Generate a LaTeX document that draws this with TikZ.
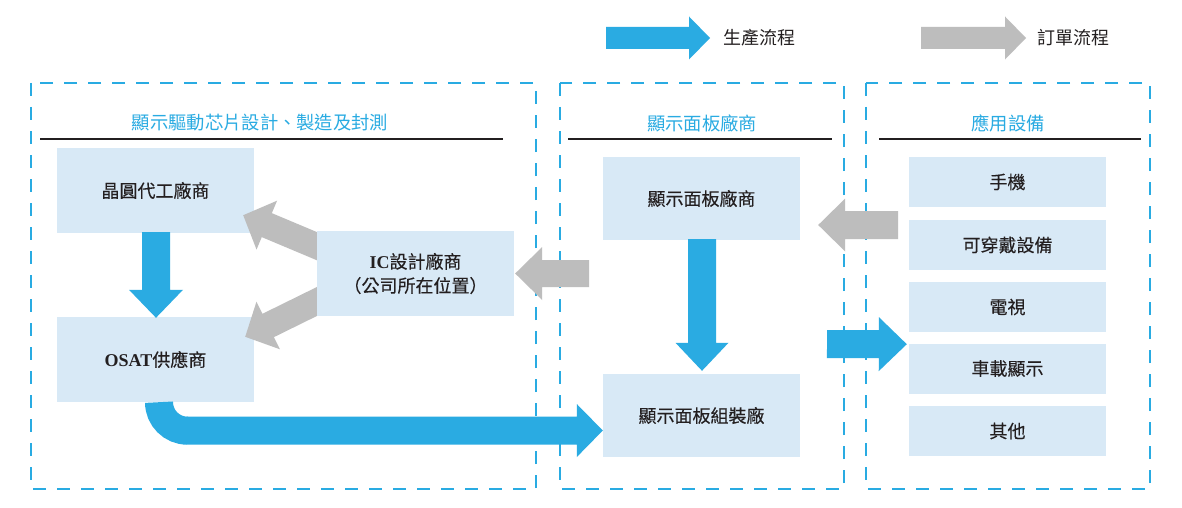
\documentclass[tikz,border=0pt]{standalone}
\usepackage{fontspec}
\setmainfont{Liberation Serif}
\newfontfamily\cjk{Noto Sans CJK TC}
\newfontfamily\cjkb[FakeBold=0.2]{Noto Sans CJK TC}
\usetikzlibrary{calc}
\definecolor{arrblue}{HTML}{2AABE2}
\definecolor{arrgray}{HTML}{BDBDBD}
\definecolor{boxfill}{HTML}{D8E9F6}
\definecolor{txt}{HTML}{231F20}
\definecolor{dashblue}{HTML}{29ABE2}
% #1 colour, #2 start (body centre), #3 tip, #4 half body width, #5 half head width, #6 head length
\newcommand\fatarr[6]{%
  \fill[#1] let \p1=#2, \p2=#3,
    \n1={atan2(\y2-\y1,\x2-\x1)}, \n2={veclen(\x2-\x1,\y2-\y1)-#6}, \n3={atan2(\y2-\y1,\x2-\x1)+90} in
    ($(\p1)+(\n3:#4pt)$) --
    ($(\p1)+(\n1:\n2)+(\n3:#4pt)$) --
    ($(\p1)+(\n1:\n2)+(\n3:#5pt)$) --
    (\p2) --
    ($(\p1)+(\n1:\n2)+(\n3:-#5pt)$) --
    ($(\p1)+(\n1:\n2)+(\n3:-#4pt)$) --
    ($(\p1)+(\n3:-#4pt)$) -- cycle;}
\begin{document}
\begin{tikzpicture}[x=1pt,y=-1pt,
  box/.style={fill=boxfill, inner sep=0pt, minimum width=197pt, minimum height=85pt,
    text=txt, font=\cjkb\fontsize{18}{24}\selectfont, align=center},
  smallbox/.style={box, minimum height=50pt},
  midbox/.style={box, minimum height=83pt},
  grp/.style={draw=dashblue, line width=2.2pt, dash pattern=on 13pt off 11pt},
  grptitle/.style={inner sep=0pt, text=dashblue, font=\cjk\fontsize{18.3}{20}\selectfont},
  rule/.style={draw=txt, line width=1.1pt},
  legtxt/.style={inner sep=0pt, anchor=west, text=txt, font=\cjk\fontsize{18}{20}\selectfont}]
\useasboundingbox (0,0) rectangle (1182,508);
\fill[white] (0,0) rectangle (1182,508);

% legend
\coordinate (lb1) at (606,38);
\coordinate (lb2) at (710,38);
\fatarr{arrblue}{(lb1)}{(lb2)}{11}{21.5}{21}
\node[legtxt] (lgprod) at (723,38) {生產流程};
\coordinate (lg1) at (921,38);
\coordinate (lg2) at (1026,38);
\fatarr{arrgray}{(lg1)}{(lg2)}{11}{21.5}{21}
\node[legtxt] (lgorder) at (1037,38) {訂單流程};

% group frames
\draw[grp] (31,83) rectangle (536,489);
\draw[grp] (560,83) rectangle (844,489);
\draw[grp] (866,83) rectangle (1150,489);

% titles
\node[grptitle] (t1) at (260,123) {顯示驅動芯片設計、製造及封測};
\node[grptitle] (t2) at (702,123) {顯示面板廠商};
\node[grptitle] (t3) at (1008,123) {應用設備};
\draw[rule] (40,139) -- (503,139);
\draw[rule] (568,139) -- (832,139);
\draw[rule] (879,139) -- (1141,139);

% left group
\node[box] (wafer) at (155.5,190.5) {晶圓代工廠商};
\node[box] (osat) at (155.5,359.5) {{\rmfamily\bfseries OSAT}供應商};

\fatarr{arrblue}{($(wafer.south)+(0.5,-1)$)}{($(osat.north)+(0.5,1)$)}{14}{27}{28}

\coordinate (icA) at (326,250);
\coordinate (icB) at (326,297);
\fatarr{arrgray}{(icA)}{($(wafer.south east)+(-11,-18)$)}{13}{26.5}{25.5}
\fatarr{arrgray}{(icB)}{($(osat.north east)+(-9,20)$)}{13}{26.5}{25.5}

\node[box] (ic) at (415.5,273.5) {{\rmfamily\bfseries IC}設計廠商\\（公司所在位置）};

% middle group
\node[midbox] (panel) at (701.5,198.5) {顯示面板廠商};
\node[midbox] (asm) at (701.5,415.5) {顯示面板組裝廠};
\fatarr{arrblue}{($(panel.south)+(0.5,-1)$)}{($(asm.north)+(0.5,-3)$)}{14}{26.5}{28}

\coordinate (g1) at (589,273.5);
\fatarr{arrgray}{(g1)}{($(ic.east)+(1,0)$)}{13.5}{26.5}{27}

% right group
\node[smallbox] (phone) at (1007.5,182) {手機};
\node[smallbox] (wear) at (1007.5,245) {可穿戴設備};
\node[smallbox] (tv) at (1007.5,307) {電視};
\node[smallbox] (car) at (1007.5,368.5) {車載顯示};
\node[smallbox] (other) at (1007.5,431) {其他};

\coordinate (g2) at (898,225);
\fatarr{arrgray}{(g2)}{($(panel.east)+(18,26.5)$)}{14}{26.5}{27}
\coordinate (b2) at (827,344);
\fatarr{arrblue}{(b2)}{($(tv.south west)+(-2,12)$)}{14}{27}{28}

% curved production arrow
\draw[arrblue, line width=28pt] ($(osat.south)+(3.5,0)$) arc[start angle=180, end angle=270, radius=28.5pt] coordinate (bend);
\fatarr{arrblue}{($(bend)+(-1,0)$)}{($(asm.west)+(0,15)$)}{14}{26.5}{26}
\end{tikzpicture}
\end{document}
